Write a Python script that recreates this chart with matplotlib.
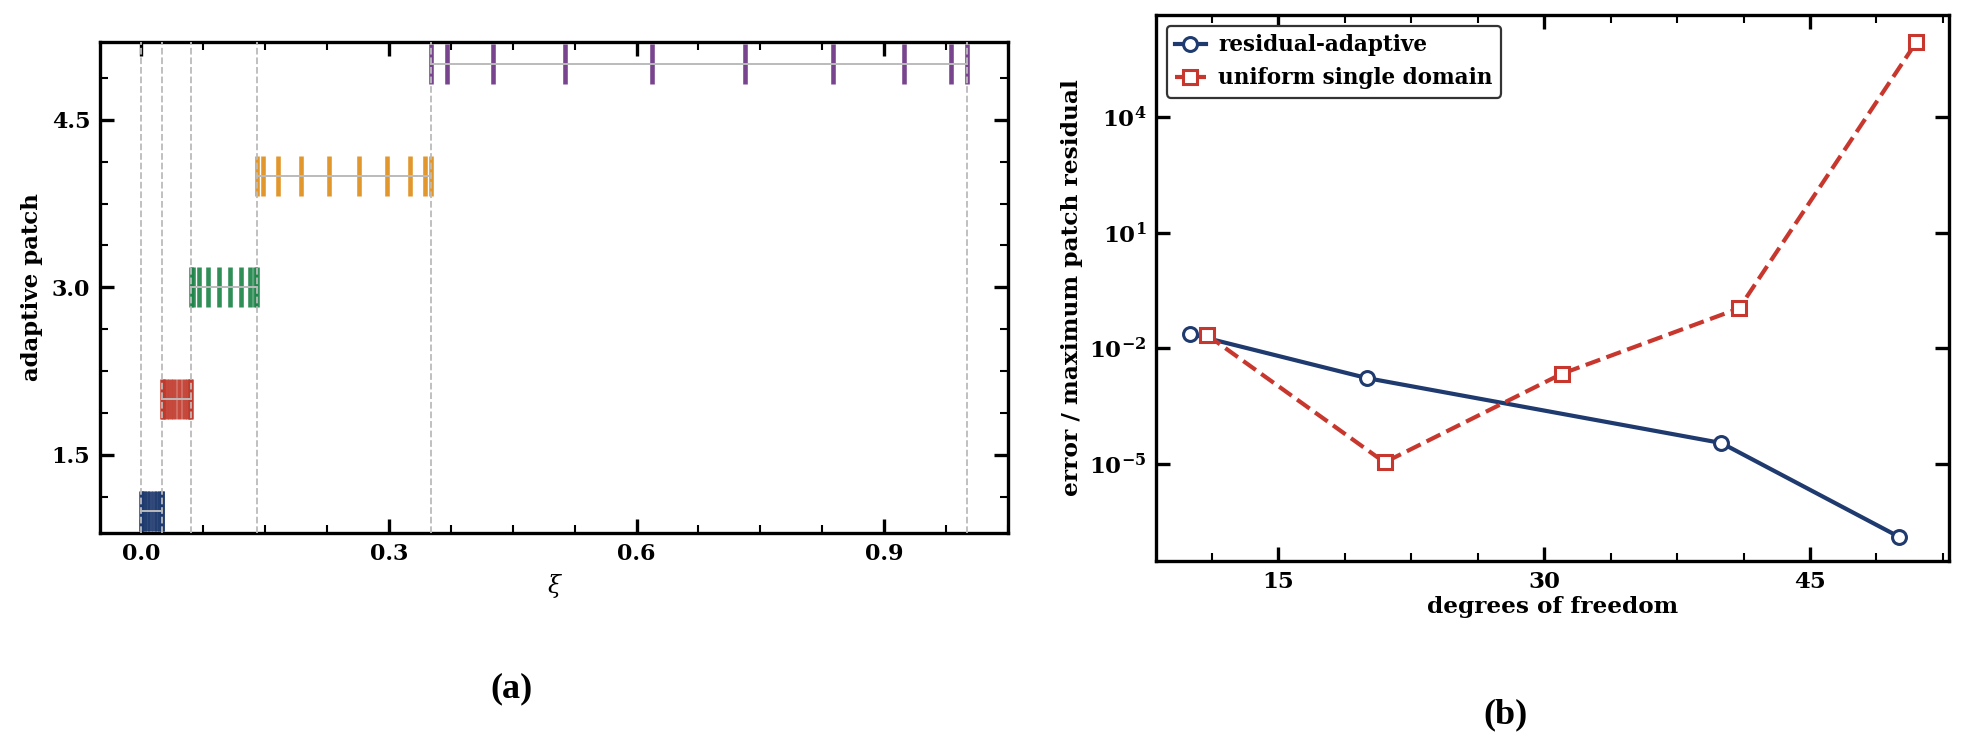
import numpy as np
import matplotlib
matplotlib.use("Agg")
import matplotlib.pyplot as plt
from matplotlib.ticker import MultipleLocator, AutoMinorLocator, FixedLocator, NullLocator

plt.rcParams['font.family'] = ['DejaVu Serif']
plt.rcParams['font.weight'] = 'bold'
plt.rcParams['axes.labelweight'] = 'bold'
plt.rcParams['mathtext.fontset'] = 'dejavuserif'
plt.rcParams['mathtext.default'] = 'bf'

# (a) adaptive patches: boundaries and collocation nodes
patch_ids = [1, 2, 3, 4, 5]
patch_colors = ['#1f3a6e', '#c0392b', '#1e8449', '#e08e1a', '#6c3483']
boundaries = [0.0, 0.0256, 0.0605, 0.1408, 0.3505, 1.0]
nodes_p1 = [0.0, 0.0008, 0.0030, 0.0064, 0.0106, 0.0150, 0.0192, 0.0226, 0.0248, 0.0256]
nodes_p2 = [0.0256, 0.0267, 0.0297, 0.0344, 0.0401, 0.0462, 0.0519, 0.0566, 0.0596, 0.0607]
nodes_p3 = [0.0605, 0.0629, 0.0699, 0.0806, 0.0937, 0.1076, 0.1207, 0.1314, 0.1384, 0.1408]
nodes_p4 = [0.1408, 0.1471, 0.1653, 0.1932, 0.2274, 0.2639, 0.2981, 0.3260, 0.3442, 0.3505]
nodes_p5 = [0.3505, 0.3700, 0.4265, 0.5129, 0.6187, 0.7318, 0.8376, 0.9240, 0.9805, 1.0]
patch_nodes = [nodes_p1, nodes_p2, nodes_p3, nodes_p4, nodes_p5]

# (b) error vs degrees of freedom
dof_adaptive = [10, 20, 40, 50]
err_adaptive = [2.4e-2, 1.7e-3, 3.5e-5, 1.3e-7]
dof_uniform = [11, 21, 31, 41, 51]
err_uniform = [2.2e-2, 1.1e-5, 2.2e-3, 1.1e-1, 9.0e5]

fig = plt.figure(figsize=(19.68, 7.49), dpi=100)
ax1 = fig.add_axes([0.0508, 0.2884, 0.4614, 0.656])
ax2 = fig.add_axes([0.5874, 0.251, 0.403, 0.729])

# ---- panel (a)
for pid, col, nodes in zip(patch_ids, patch_colors, patch_nodes):
    ax1.vlines(nodes, pid - 0.18, pid + 0.18, colors=col, lw=3.3, alpha=0.92, zorder=2)
    ax1.plot([nodes[0], nodes[-1]], [pid, pid], color='#bbbbbb', lw=1.4, zorder=3)
for b in boundaries:
    ax1.axvline(b, color='#bbbbbb', ls='--', lw=1.3, zorder=4)

ax1.set_xlim(-0.05, 1.05)
ax1.set_ylim(0.8, 5.2)
ax1.xaxis.set_major_locator(MultipleLocator(0.3))
ax1.xaxis.set_minor_locator(AutoMinorLocator(4))
ax1.yaxis.set_major_locator(FixedLocator([1.5, 3.0, 4.5]))
ax1.yaxis.set_minor_locator(MultipleLocator(0.375))
ax1.set_xlabel('ξ', fontsize=17, fontweight='normal', fontstyle='italic', labelpad=7)
ax1.set_ylabel('adaptive patch', fontsize=16.5, labelpad=6)

# ---- panel (b)
ax2.plot(dof_adaptive, err_adaptive, '-o', color='#1f3a6e', lw=3.0, ms=10,
         mfc='white', mec='#1f3a6e', mew=2.2, label='residual-adaptive')
ax2.plot(dof_uniform, err_uniform, '--s', color='#c8372d', lw=3.0, ms=10,
         mfc='white', mec='#c8372d', mew=2.2, label='uniform single domain')
ax2.set_yscale('log')
ax2.set_xlim(8.1, 52.85)
ax2.set_ylim(10 ** -7.52, 10 ** 6.66)
ax2.xaxis.set_major_locator(MultipleLocator(15))
ax2.xaxis.set_minor_locator(AutoMinorLocator(4))
ax2.yaxis.set_major_locator(FixedLocator([1e-5, 1e-2, 1e1, 1e4]))
ax2.yaxis.set_minor_locator(NullLocator())
ax2.set_xlabel('degrees of freedom', fontsize=16.7, labelpad=2)
ax2.set_ylabel('error / maximum patch residual', fontsize=16.8)
leg = ax2.legend(loc='upper left', fontsize=15.5, frameon=True, fancybox=True,
                 handlelength=1.4, handletextpad=0.6, borderaxespad=0.5)
leg.get_frame().set_edgecolor('#333333')
leg.get_frame().set_linewidth(1.6)
leg.get_frame().set_alpha(1.0)

for ax, lsize in ((ax1, 16), (ax2, 16.5)):
    for s in ax.spines.values():
        s.set_linewidth(2.4)
    ax.tick_params(which='both', direction='in', top=True, right=True)
    ax.tick_params(which='major', length=10, width=2.4, labelsize=lsize, pad=7)
    ax.tick_params(which='minor', length=5.5, width=1.5)
    for lab in ax.get_xticklabels() + ax.get_yticklabels():
        lab.set_fontweight('bold')

fig.text(0.26, 0.08, '(a)', fontsize=26, family='Liberation Serif', ha='center', va='center')
fig.text(0.765, 0.045, '(b)', fontsize=26, family='Liberation Serif', ha='center', va='center')

fig.savefig('out.png', dpi=100)
